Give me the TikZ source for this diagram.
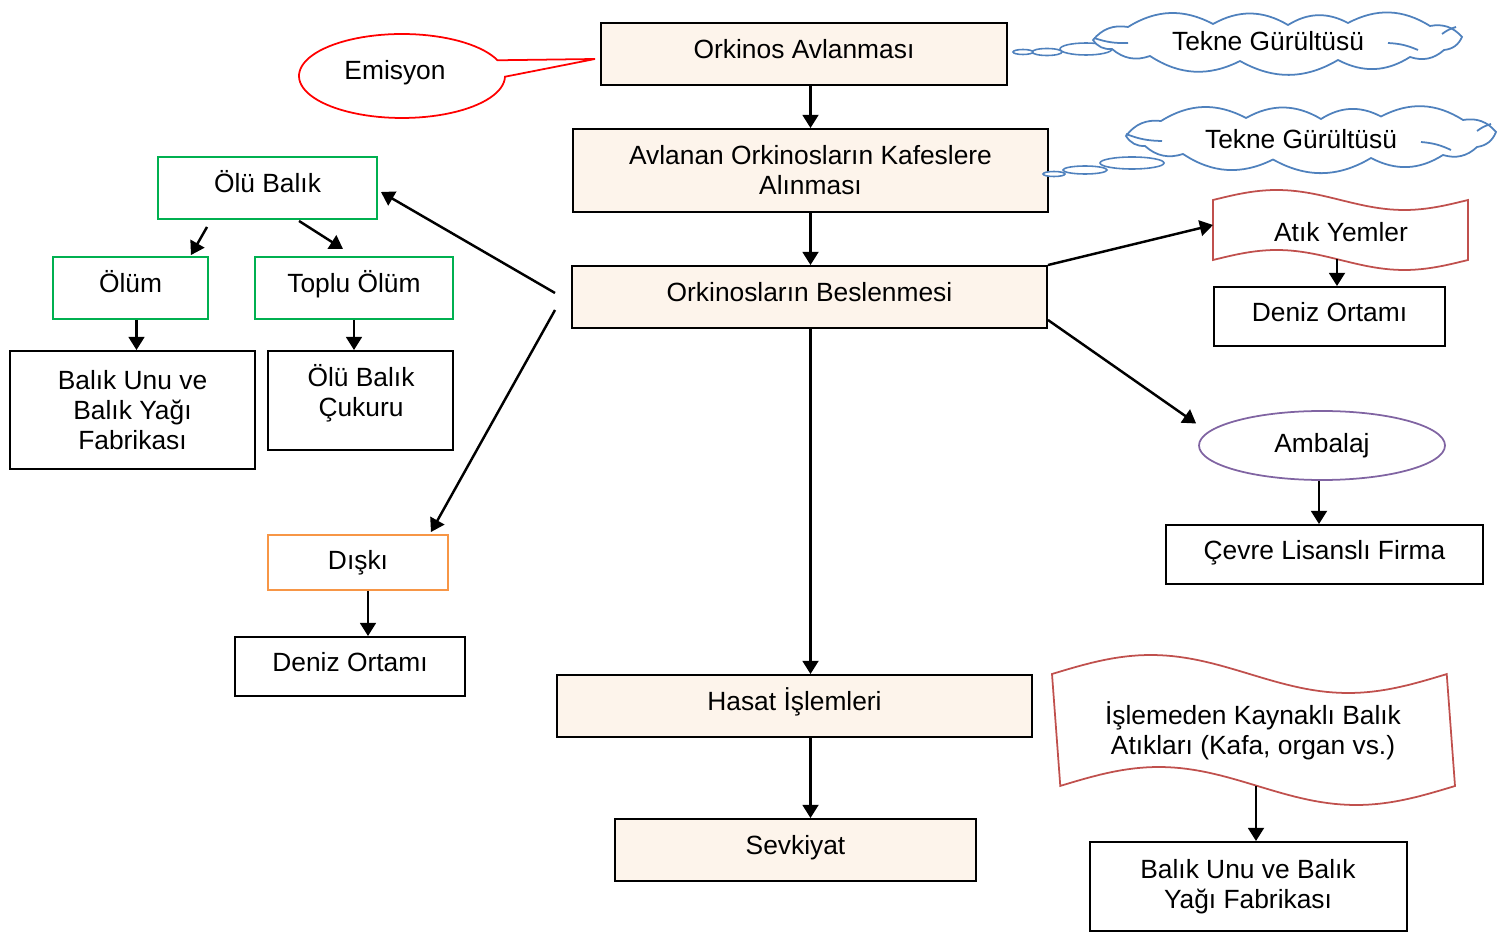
\documentclass[tikz,border=0pt]{standalone}
\usepackage{fontspec}
\setmainfont{Liberation Sans}
\usetikzlibrary{shapes.geometric,arrows.meta,calc}
\definecolor{peach}{RGB}{253,244,235}
\definecolor{grn}{RGB}{0,176,80}
\definecolor{org}{RGB}{247,150,70}
\definecolor{pur}{RGB}{128,100,162}
\definecolor{dred}{RGB}{192,80,77}
\definecolor{cblue}{RGB}{79,129,189}
\begin{document}
\begin{tikzpicture}[x=0.02cm,y=-0.02cm, font=\fontsize{15}{17}\selectfont,
 box/.style={draw=black, line width=1.1pt, align=center, inner sep=0pt},
 one/.style={text height=11pt, text depth=5.5pt},
 main/.style={box, fill=peach},
 gbox/.style={box, draw=grn},
 txt/.style={align=center, inner sep=0pt},
 arr/.style={-{Triangle[length=7.5pt,width=9pt]}, line width=1.4pt},
 wh/.style 2 args={minimum width={#1*0.02cm}, minimum height={#2*0.02cm}},
 bub/.style={ellipse, draw=cblue, line width=0.9pt, fill=white, inner sep=0pt},
 cloudline/.style={draw=cblue, line width=1pt, fill=white},
 puff/.style={bend left=30},
 inner/.style={draw=cblue, line width=1pt},
]
\useasboundingbox (0,0) rectangle (1509,932);

% main column
\node[main, one, wh={406}{62}] (ork) at (804,54) {Orkinos Avlanması};
\node[main, wh={475}{83}] (avl) at (810.5,170.5) {Avlanan Orkinosların Kafeslere\\Alınması};
\node[main, one, wh={475}{62}] (besl) at (809.5,297) {Orkinosların Beslenmesi};
\node[main, one, wh={475}{62}] (hasat) at (794.5,706) {Hasat İşlemleri};
\node[main, one, wh={361}{62}] (sevk) at (795.5,850) {Sevkiyat};

% left branch
\node[gbox, one, wh={219}{62}] (olub) at (267.5,188) {Ölü Balık};
\node[gbox, one, wh={155}{62}] (olum) at (130.5,288) {Ölüm};
\node[gbox, one, wh={198}{62}] (toplu) at (354,288) {Toplu Ölüm};
\node[box, wh={245}{118}] (fabL) at (132.5,410) {Balık Unu ve\\Balık Yağı\\Fabrikası};
\node[box, wh={185}{99}] (cukur) at (360.5,400.5) {};
\node[txt] (cukurT) at (361,393) {Ölü Balık\\Çukuru};
\node[box, draw=org, wh={180}{55}] (diski) at (358,562.5) {Dışkı};
\node[box, one, wh={230}{59}] (denizL) at (350,666.5) {Deniz Ortamı};

% right branch
\draw[dred, line width=1pt, fill=white] plot[domain=0:1, samples=50] ({1213+255*\x},{200-10*sin(360*\x)}) -- plot[domain=1:0, samples=50] ({1213+255*\x},{260-10*sin(360*\x)}) -- cycle;
\node[txt] (atik) at (1341,232) {Atık Yemler};
\coordinate (atikL) at (1213,225);
\coordinate (atikB) at (1337,259);
\node[box, one, wh={231}{59}] (denizR) at (1329.5,316.5) {Deniz Ortamı};
\node[ellipse, draw=pur, line width=1pt, wh={246}{69}, inner sep=0pt] (amb) at (1322,445.5) {Ambalaj};
\node[box, one, wh={317}{59}] (cevre) at (1324.5,554.5) {Çevre Lisanslı Firma};

\draw[dred, line width=1pt, fill=white] plot[domain=0:1, samples=60] ({1052+395*\x},{674-19*sin(360*\x)}) -- plot[domain=1:0, samples=60] ({1060+395*\x},{786-19*sin(360*\x)}) -- cycle;
\node[txt] (isle) at (1253,731) {İşlemeden Kaynaklı Balık\\Atıkları (Kafa, organ vs.)};
\coordinate (isleB) at (1256,786);
\node[box, wh={317}{89}] (fabR) at (1248.5,886.5) {};
\node[txt] (fabRT) at (1248,887) {Balık Unu ve Balık\\Yağı Fabrikası};

% Emisyon callout
\draw[red, line width=1pt, fill=white] plot[domain=22:359, samples=90] ({402+103*cos(\x)},{76-42*sin(\x)}) -- (595,59) -- cycle;
\node[txt] (emis) at (395,73) {Emisyon};

% cloud 1
\node[bub, wh={52}{12}] (b1a) at (1086,49) {};
\node[bub, wh={30}{7}] (b1b) at (1047,52) {};
\node[bub, wh={20}{5}] (b1c) at (1023,52) {};
\path[cloudline] (1093,40) to[puff] (1128,27) to[puff] (1213,24) to[puff] (1288,25) to[puff] (1348,23) to[puff] (1430,26) to[puff] (1462,37) to[puff] (1444,50) to[puff] (1410,57) to[puff] (1338,60) to[puff] (1240,61) to[puff] (1150,56) to[puff] (1112,49) to[puff] (1093,40) -- cycle;
\draw[inner] (1094,38) to[bend right=10] (1128,43);
\draw[inner] (1388,43) to[bend left=10] (1418,50);
\draw[inner] (1442,34) to[bend left=10] (1456,27);
\node[txt] (c1t) at (1268,41) {Tekne Gürültüsü};

% cloud 2
\node[bub, wh={64}{12}] (b2a) at (1132,163) {};
\node[bub, wh={44}{8}] (b2b) at (1085,170) {};
\node[bub, wh={22}{5}] (b2c) at (1054,174) {};
\path[cloudline] (1126,136) to[puff] (1161,121) to[puff] (1246,118) to[puff] (1321,119) to[puff] (1381,116.5) to[puff] (1463,120) to[puff] (1496,132) to[puff] (1477,147) to[puff] (1443,155) to[puff] (1371,158) to[puff] (1273,159.5) to[puff] (1183,154) to[puff] (1145,146) to[puff] (1126,136) -- cycle;
\draw[inner] (1126,134) to[bend right=10] (1162,141);
\draw[inner] (1421,142) to[bend left=10] (1451,150);
\draw[inner] (1477,131) to[bend left=10] (1491,124);
\node[txt] (c2t) at (1301,139) {Tekne Gürültüsü};

% connectors
\draw[arr] (ork.south -| avl.north) -- (avl.north);
\draw[arr] (avl.south) -- (avl.south |- besl.north);
\draw[arr] (besl.south -| avl.south) -- (hasat.north -| avl.south);
\draw[arr] (hasat.south -| avl.south) -- (sevk.north -| avl.south);

\draw[arr] ($(besl.west)+(-16,-4)$) -- ($(olub.east)+(3,4)$);
\draw[arr] ($(besl.west)+(-16,13)$) -- ($(diski.north east)+(-18,-2)$);
\draw[arr] ($(olub.south west)+(50,7)$) -- ($(olum.north east)+(-18,-1)$);
\draw[arr] ($(olub.south west)+(142,1)$) -- ($(toplu.north west)+(89,-7)$);
\draw[arr] ($(olum.south)+(6,0)$) -- ($(fabL.north)+(4,0)$);
\draw[arr] (toplu.south) -- (toplu.south |- cukur.north);
\draw[arr] ($(diski.south)+(10,0)$) -- ($(diski.south |- denizL.north)+(10,0)$);

\draw[arr] (besl.north east) -- (atikL);
\draw[arr] ($(besl.east)+(0,23)$) -- ($(amb.west)+(-2,-22)$);
\draw[arr] (atikB) -- (atikB |- denizR.north);
\draw[arr] ($(amb.south)+(-3,0)$) -- ($(amb.south |- cevre.north)+(-3,0)$);
\draw[arr] (isleB) -- (isleB |- fabR.north);
\end{tikzpicture}
\end{document}
